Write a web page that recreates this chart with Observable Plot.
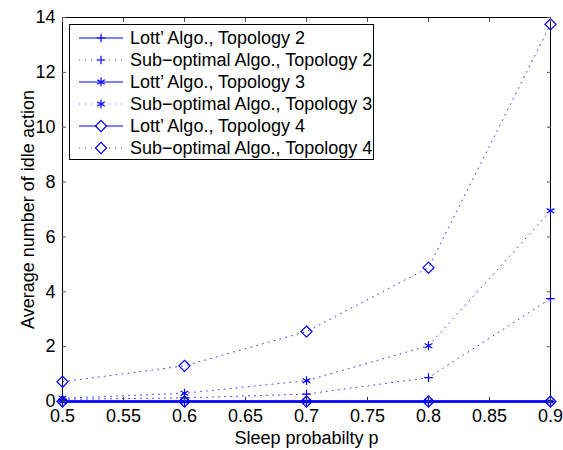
<!DOCTYPE html>
<html>
<head>
<meta charset="utf-8">
<script src="https://cdn.jsdelivr.net/npm/d3@7"></script>
<script src="https://cdn.jsdelivr.net/npm/@observablehq/plot@0.6"></script>
<style>
  html, body { margin: 0; padding: 0; background: #fff; }
  #wrap { position: relative; width: 563px; height: 450px; font-family: "Liberation Sans", Arial, sans-serif; }
  #legend { position: absolute; left: 69px; top: 24px; width: 305px; height: 136px; border: 1px solid #000; background: #fff; box-sizing: border-box; }
  .row { position: absolute; left: 0; height: 22px; display: flex; align-items: center; }
  .row svg { margin-left: 8px; flex: none; }
  .row span { margin-left: 6px; font-size: 18px; color: #000; white-space: nowrap; line-height: 22px; }
</style>
</head>
<body>
<div id="wrap"></div>
<script>
// ---- data ----
const sleepProb = [0.5, 0.6, 0.7, 0.8, 0.9];
const lottTopo2 = [0, 0, 0, 0, 0];
const subTopo2  = [0.08, 0.13, 0.27, 0.87, 3.75];
const lottTopo3 = [0, 0, 0, 0, 0];
const subTopo3  = [0.12, 0.3, 0.76, 2.03, 6.95];
const lottTopo4 = [0, 0, 0, 0, 0];
const subTopo4  = [0.72, 1.3, 2.55, 4.88, 13.75];
const xTicks = [0.5, 0.55, 0.6, 0.65, 0.7, 0.75, 0.8, 0.85, 0.9];
const yTicks = [0, 2, 4, 6, 8, 10, 12, 14];
const seriesNames = [
  "Lott’ Algo., Topology 2", "Sub−optimal Algo., Topology 2",
  "Lott’ Algo., Topology 3", "Sub−optimal Algo., Topology 3",
  "Lott’ Algo., Topology 4", "Sub−optimal Algo., Topology 4"
];
const seriesValues = [lottTopo2, subTopo2, lottTopo3, subTopo3, lottTopo4, subTopo4];
const seriesSymbols = ["plus", "plus", "asterisk", "asterisk", "diamond2", "diamond2"];
const seriesDotted = [false, true, false, true, false, true];

const blue = "#0000ff";
const dash = "1,5";
const symbolR = {plus: 2.9, asterisk: 4.2, diamond2: 5};

const marks = [];
const order = [1, 3, 5, 0, 2, 4];
for (const i of order) {
  const data = sleepProb.map((p, j) => ({p, v: seriesValues[i][j]}));
  marks.push(Plot.line(data, {x: "p", y: "v", stroke: blue, strokeWidth: seriesDotted[i] ? 1 : 2.2,
    strokeDasharray: seriesDotted[i] ? dash : null, strokeOpacity: seriesDotted[i] ? 0.75 : 1}));
  marks.push(Plot.dot(data, {x: "p", y: "v", symbol: () => seriesSymbols[i], stroke: blue, fill: "none",
    r: symbolR[seriesSymbols[i]], strokeWidth: 1.2}));
}

const chart = Plot.plot({
  width: 563,
  height: 450,
  marginLeft: 62,
  marginRight: 13,
  marginTop: 17,
  marginBottom: 49,
  style: {fontFamily: "Liberation Sans, Arial, sans-serif", fontSize: "18px", background: "#fff", color: "#000"},
  x: {domain: [0.5, 0.9]},
  y: {domain: [0, 14]},
  marks: [
    Plot.frame({stroke: "#000"}),
    ...marks,
    Plot.axisX(xTicks, {anchor: "bottom", tickSize: -4, tickPadding: 12, stroke: "#333",
      tickFormat: d => String(+d.toFixed(2)), label: "Sleep probabilty p", labelAnchor: "center", labelOffset: 42, labelArrow: "none", fontSize: 18}),
    Plot.axisX(xTicks, {anchor: "top", tickSize: -4, tickFormat: () => "", label: null, stroke: "#555"}),
    Plot.axisY(yTicks, {anchor: "left", tickSize: -4, tickPadding: 11, stroke: "#555",
      label: "Average number of idle action", labelAnchor: "center", labelOffset: 41, labelArrow: "none", fontSize: 18}),
    Plot.axisY(yTicks, {anchor: "right", tickSize: -4, tickFormat: () => "", label: null, stroke: "#555"})
  ]
});

const wrap = document.getElementById("wrap");
wrap.appendChild(chart);

// legend overlay
const legend = document.createElement("div");
legend.id = "legend";
const symPath = {plus: d3.symbolPlus, asterisk: d3.symbolAsterisk, diamond2: d3.symbolDiamond2};
seriesNames.forEach((name, i) => {
  const row = document.createElement("div");
  row.className = "row";
  row.style.top = (2 + i * 22) + "px";
  const svg = d3.create("svg").attr("width", 46).attr("height", 22);
  svg.append("line").attr("x1", 1).attr("x2", 45).attr("y1", 11).attr("y2", 11)
    .attr("stroke", blue).attr("stroke-width", 1).attr("stroke-opacity", seriesDotted[i] ? 0.7 : 1)
    .attr("stroke-dasharray", seriesDotted[i] ? dash : null);
  const r = symbolR[seriesSymbols[i]];
  svg.append("path").attr("transform", "translate(23,11)")
    .attr("d", d3.symbol(symPath[seriesSymbols[i]], r * r * Math.PI)())
    .attr("stroke", blue).attr("fill", seriesSymbols[i] === "diamond2" ? "#fff" : "none").attr("stroke-width", 1.2);
  row.appendChild(svg.node());
  const span = document.createElement("span");
  span.textContent = name;
  row.appendChild(span);
  legend.appendChild(row);
});
wrap.appendChild(legend);
</script>
</body>
</html>
